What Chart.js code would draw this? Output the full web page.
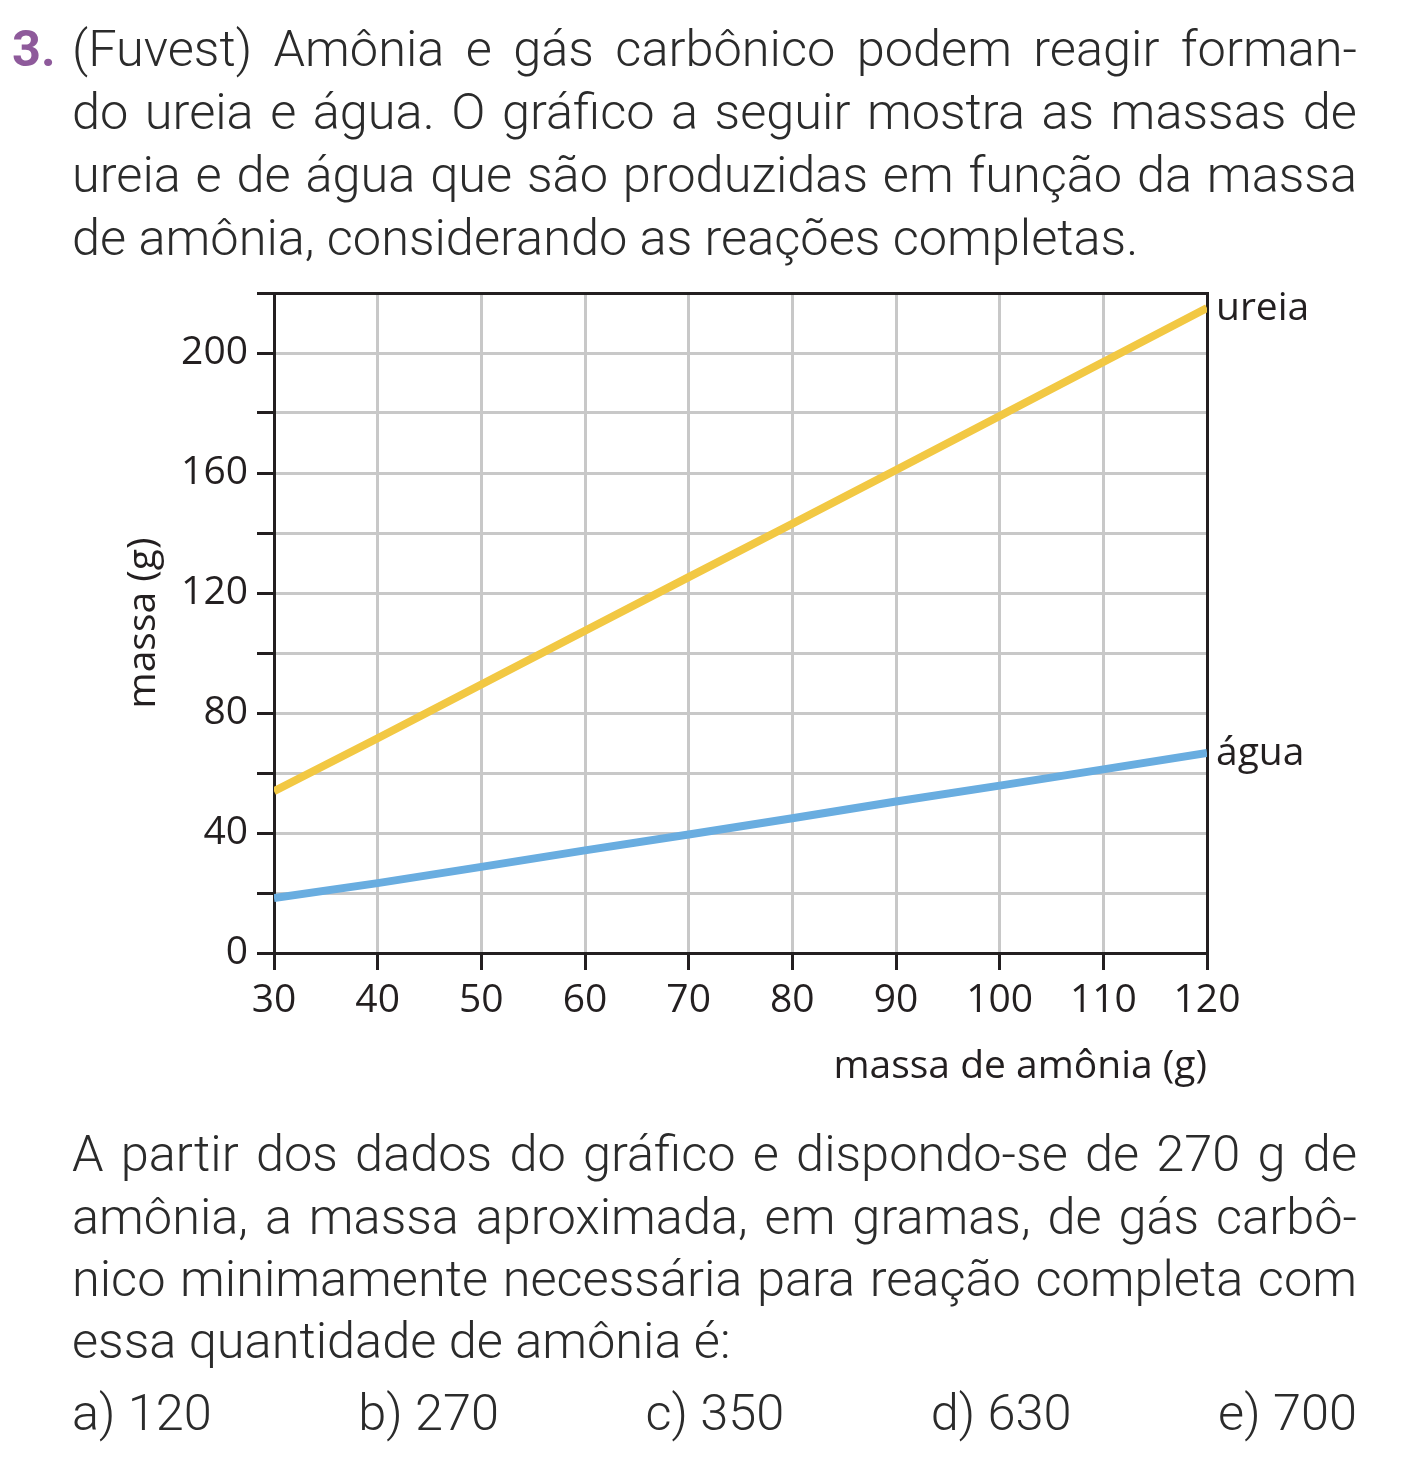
<!DOCTYPE html>
<html>
<head>
<meta charset="utf-8">
<script src="https://cdn.jsdelivr.net/npm/chart.js@4/dist/chart.umd.min.js"></script>
<style>
  html, body { margin: 0; padding: 0; background: #ffffff; }
  body { width: 1425px; height: 1462px; position: relative; overflow: hidden; font-family: Roboto, "Liberation Sans", sans-serif; }
  .ln { position: absolute; left: 72px; white-space: pre; font-size: 50.5px; line-height: 1; color: #2b2b2b; font-weight: 300; }
  .num { position: absolute; left: 12px; white-space: pre; font-size: 50.5px; line-height: 1; font-weight: 700; color: #8e5a9b; }
  .row { width: 1285px; display: flex; justify-content: space-between; align-items: baseline; }
  #chartBox { position: absolute; left: 0; top: 270px; width: 1425px; height: 840px; }
</style>
</head>
<body>
<div id="chartBox"><canvas id="c" width="1425" height="840" style="width:1425px;height:840px"></canvas></div>
<script>
// ---------- data ----------
const massaAmonia = [30, 40, 50, 60, 70, 80, 90, 100, 110, 120];
const massaUreia  = [53.9, 71.6, 89.5, 107.4, 125.3, 143.1, 161.0, 179.0, 197.0, 215.0];
const massaAgua   = [18.3, 23.3, 28.7, 34.2, 39.5, 44.9, 50.5, 55.8, 61.2, 66.7];
const seriesNames = ['ureia', 'água'];
const xTickValues = [30, 40, 50, 60, 70, 80, 90, 100, 110, 120];
const yTickValues = [0, 20, 40, 60, 80, 100, 120, 140, 160, 180, 200, 220];
const yLabelValues = [0, 40, 80, 120, 160, 200];
const xTitle = 'massa de amônia (g)';
const yTitle = 'massa (g)';

const questionNumber = '3.';
const topLines = [
  '(Fuvest) Amônia e gás carbônico podem reagir forman-',
  'do ureia e água. O gráfico a seguir mostra as massas de',
  'ureia e de água que são produzidas em função da massa',
  'de amônia, considerando as reações completas.'
];
const bottomLines = [
  'A partir dos dados do gráfico e dispondo-se de 270 g de',
  'amônia, a massa aproximada, em gramas, de gás carbô-',
  'nico minimamente necessária para reação completa com',
  'essa quantidade de amônia é:'
];
const answers = ['a) 120', 'b) 270', 'c) 350', 'd) 630', 'e) 700'];

// ---------- text layout ----------
const TEXT_W = 1285;
function marker() {
  const m = document.createElement('span');
  m.style.cssText = 'display:inline-block;width:0;height:0;vertical-align:baseline';
  return m;
}
function placeAtBaseline(d, m, baseline) {
  d.style.top = '0px';
  const off = m.getBoundingClientRect().bottom - d.getBoundingClientRect().top;
  d.style.top = (baseline - off) + 'px';
}
function placeLine(text, baseline, justify, cls) {
  const d = document.createElement('div');
  d.className = cls || 'ln';
  const s = document.createElement('span');
  s.textContent = text;
  d.appendChild(s);
  const m = marker();
  d.appendChild(m);
  document.body.appendChild(d);
  if (justify) {
    const w = s.getBoundingClientRect().width;
    const n = (text.match(/ /g) || []).length;
    if (n > 0) s.style.wordSpacing = ((TEXT_W - w) / n) + 'px';
  }
  placeAtBaseline(d, m, baseline);
}
function layoutText() {
  document.querySelectorAll('.ln, .num').forEach(e => e.remove());
  const topBase = [66, 129, 192, 255];
  const botBase = [1171, 1234, 1296, 1358];
  placeLine(questionNumber, topBase[0], false, 'num');
  topLines.forEach((t, i) => placeLine(t, topBase[i], i < topLines.length - 1));
  bottomLines.forEach((t, i) => placeLine(t, botBase[i], i < bottomLines.length - 1));
  const d = document.createElement('div');
  d.className = 'ln row';
  let m = null;
  answers.forEach((a, i) => {
    const s = document.createElement('span');
    s.textContent = a;
    if (i === 0) { m = marker(); s.appendChild(m); }
    d.appendChild(s);
  });
  document.body.appendChild(d);
  placeAtBaseline(d, m, 1430);
}
layoutText();
if (document.fonts && document.fonts.ready) document.fonts.ready.then(layoutText);

// ---------- chart ----------
const INK = '#231f20';
const GRID = '#c8c8c8';
const chartFont = { family: '"Open Sans", "Noto Sans", sans-serif', size: 39 };

const framePlugin = {
  id: 'frame',
  beforeDatasetsDraw(chart) {
    const { ctx, chartArea: a } = chart;
    const l = Math.round(a.left) + 0.5, r = Math.round(a.right) + 0.5;
    const t = Math.round(a.top) + 0.5, b = Math.round(a.bottom) + 0.5;
    ctx.save();
    ctx.strokeStyle = INK;
    ctx.lineWidth = 3;
    ctx.lineCap = 'square';
    ctx.lineJoin = 'miter';
    ctx.beginPath();
    ctx.moveTo(l, b); ctx.lineTo(l, t); ctx.lineTo(r, t); ctx.lineTo(r, b); ctx.lineTo(l, b);
    ctx.closePath();
    ctx.stroke();
    ctx.restore();
  }
};
const endLabelPlugin = {
  id: 'endLabels',
  afterDatasetsDraw(chart) {
    const { ctx, chartArea: a } = chart;
    ctx.save();
    ctx.font = chartFont.size + 'px ' + chartFont.family;
    ctx.fillStyle = INK;
    ctx.textAlign = 'left';
    ctx.textBaseline = 'middle';
    chart.data.datasets.forEach((ds, i) => {
      const meta = chart.getDatasetMeta(i);
      const last = meta.data[meta.data.length - 1];
      ctx.fillText(ds.label, a.right + 9, last.y + 1);
    });
    ctx.restore();
  }
};

const toPoints = ys => massaAmonia.map((x, i) => ({ x: x, y: ys[i] }));

new Chart(document.getElementById('c'), {
  type: 'line',
  data: {
    datasets: [
      { label: seriesNames[0], data: toPoints(massaUreia), borderColor: '#f2c843', borderWidth: 8,
        pointRadius: 0, tension: 0, borderCapStyle: 'butt', fill: false },
      { label: seriesNames[1], data: toPoints(massaAgua), borderColor: '#69ade0', borderWidth: 8,
        pointRadius: 0, tension: 0, borderCapStyle: 'butt', fill: false }
    ]
  },
  options: {
    responsive: false,
    animation: false,
    events: [],
    layout: { padding: { left: 0, top: 23, right: 218, bottom: 0 } },
    plugins: { legend: { display: false }, tooltip: { enabled: false }, title: { display: false } },
    scales: {
      x: {
        type: 'linear',
        min: xTickValues[0],
        max: xTickValues[xTickValues.length - 1],
        afterBuildTicks: s => { s.ticks = xTickValues.map(v => ({ value: v })); },
        afterFit: s => { s.height = 157; s.paddingLeft = 0; s.paddingRight = 0; },
        border: { display: true, color: INK, width: 3 },
        grid: { color: GRID, lineWidth: 3, tickColor: INK, tickWidth: 3, tickLength: 17, drawTicks: true },
        ticks: { font: chartFont, color: INK, padding: 7, maxRotation: 0, autoSkip: false,
                 callback: v => String(v) },
        title: { display: true, text: xTitle, align: 'end', font: chartFont, color: INK,
                 padding: { top: 0, bottom: 20 } }
      },
      y: {
        type: 'linear',
        min: yTickValues[0],
        max: yTickValues[yTickValues.length - 1],
        afterBuildTicks: s => { s.ticks = yTickValues.map(v => ({ value: v })); },
        afterFit: s => { s.width = 274; s.paddingTop = 0; s.paddingBottom = 0; },
        border: { display: true, color: INK, width: 3 },
        grid: { color: GRID, lineWidth: 3, tickColor: INK, tickWidth: 3, tickLength: 17, drawTicks: true },
        ticks: { font: chartFont, color: INK, padding: 9, autoSkip: false,
                 callback: v => (yLabelValues.includes(v) ? String(v) : '') },
        title: { display: true, text: yTitle, align: 'center', font: chartFont, color: INK,
                 padding: { top: 120, bottom: 0 } }
      }
    }
  },
  plugins: [framePlugin, endLabelPlugin]
});
</script>
</body>
</html>
